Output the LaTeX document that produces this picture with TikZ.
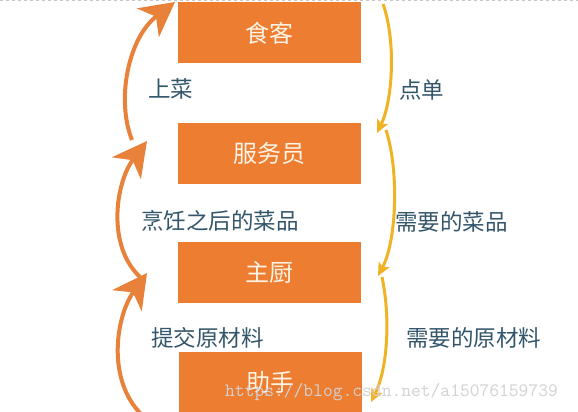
\documentclass[tikz,border=0pt]{standalone}
\usepackage{fontspec}
\newfontfamily\cjk{Noto Sans CJK SC}
\usetikzlibrary{arrows.meta}
\definecolor{boxorange}{HTML}{ED7D31}
\definecolor{arroworange}{HTML}{E8823A}
\definecolor{arrowgold}{HTML}{F0B323}
\definecolor{labeltext}{HTML}{34566B}
\definecolor{boxtext}{HTML}{FFF4E6}
\tikzset{
  stagebox/.style={fill=boxorange, draw=none, minimum width=183pt, minimum height=61pt, inner sep=0pt,
    font=\cjk\fontsize{24}{28}\selectfont, text=boxtext},
  steplabel/.style={font=\cjk\fontsize{22.5}{26}\selectfont, text=labeltext, inner sep=0pt, anchor=west},
  uparrow/.style={draw=arroworange, line width=4pt, -{Stealth[length=34pt, width=36pt, inset=10pt]}},
  downarrow/.style={draw=arrowgold, line width=3pt, -{Stealth[length=13pt, width=12pt, inset=3pt]}},
}
\begin{document}
\begin{tikzpicture}[x=1pt, y=-1pt]
\useasboundingbox (0,0) rectangle (578,412);
\fill[white] (0,0) rectangle (578,412);
\coordinate (tl) at (0,0.5);
\coordinate (tr) at (578,0.5);
\draw[gray!45, dashed, line width=0.6pt] (tl) -- (tr);

% boxes
\node[stagebox] (guest) at (269.5,33) {食客};
\node[stagebox] (waiter) at (269.5,153.5) {服务员};
\node[stagebox] (chef) at (269.5,272.5) {主厨};
\node[stagebox] (helper) at (270.5,382.5) {助手};

% labels
\node[steplabel] (l1) at (148,89) {上菜};
\node[steplabel] (l2) at (141,221) {烹饪之后的菜品};
\node[steplabel] (l3) at (151,338) {提交原材料};
\node[steplabel] (r1) at (399,90) {点单};
\node[steplabel] (r2) at (395,222) {需要的菜品};
\node[steplabel] (r3) at (406,338) {需要的原材料};

% left (orange) arrows
\coordinate (a1s) at (132,140);
\coordinate (a1e) at (175,2);
\coordinate (a2s) at (140,277);
\coordinate (a2e) at (147,141);
\coordinate (a3s) at (142,415);
\coordinate (a3e) at (147,273);
\draw[uparrow] (a1s) .. controls (116,100) and (128,38) .. (a1e);
\draw[uparrow] (a2s) .. controls (106,245) and (116,182) .. (a2e);
\draw[uparrow] (a3s) .. controls (106,380) and (116,316) .. (a3e);

% right (gold) arrows
\coordinate (b1s) at (383,4);
\coordinate (b1e) at (377,133);
\coordinate (b2s) at (386,130);
\coordinate (b2e) at (378,276);
\coordinate (b3s) at (382,277);
\coordinate (b3e) at (371,402);
\draw[downarrow] (b1s) .. controls (396,40) and (393,100) .. (b1e);
\draw[downarrow] (b2s) .. controls (399,170) and (397,240) .. (b2e);
\draw[downarrow] (b3s) .. controls (391,320) and (387,370) .. (b3e);

% watermark
\node[text=gray!35, font=\ttfamily\fontsize{19}{22}\selectfont, inner sep=0pt, anchor=west] (wm) at (225,392) {https://blog.csdn.net/a15076159739};
\end{tikzpicture}
\end{document}
